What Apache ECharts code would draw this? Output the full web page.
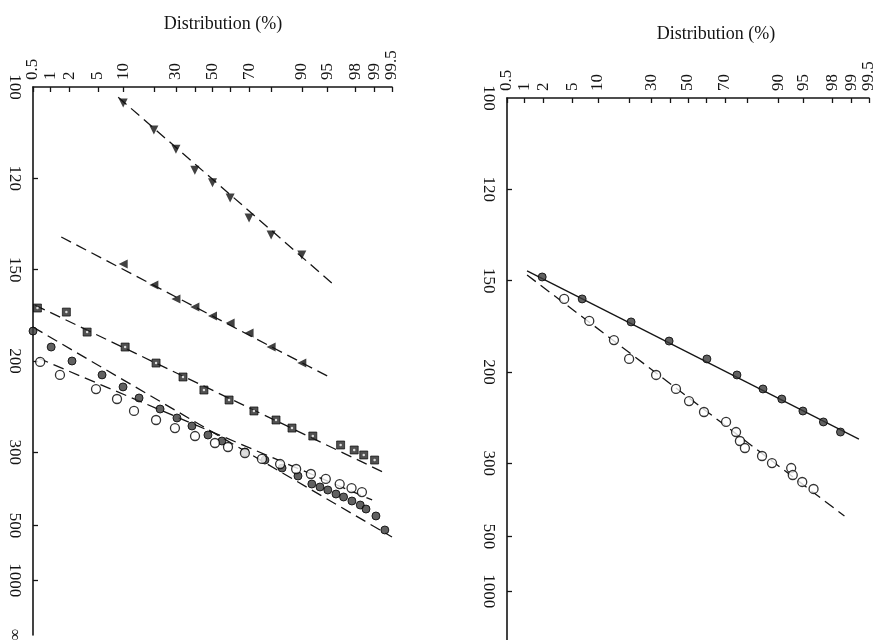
<!DOCTYPE html>
<html><head><meta charset="utf-8">
<script src="https://cdn.jsdelivr.net/npm/echarts@6/dist/echarts.min.js"></script>
<style>html,body{margin:0;padding:0;background:#fff}#c{width:888px;height:640px}</style>
</head><body><div id="c"></div>
<script>
// ---- axis ticks / labels ----
const probTicks = [0.5,1,2,5,10,20,30,40,50,60,70,80,90,95,98,99,99.5];
const probLabels = [0.5,1,2,5,10,30,50,70,90,95,98,99,99.5];
const strengthTicks = [120,150,200,300,500,1000];
const strengthLabelValues = [100,120,150,200,300,500,1000,Infinity];
const strengthLabelText = ['100','120','150','200','300','500','1000','∞'];

// ---- left panel data (percent, strength) ----
const lDownPct = [10,20,30,40,50,60,70,80,90];
const lDownStr = [103.0,108.5,112.8,117.9,121.2,125.4,131.4,137.0,144.2];
const lDownFitPct = [8.8,95.8];
const lDownFitStr = [101.9,156.1];

const lLeftPct = [10,20,30,40,50,60,70,80,90];
const lLeftStr = [147.7,156.6,163.1,167.1,171.8,175.7,181.5,190.3,201.5];
const lLeftFitPct = [1.5,95.3];
const lLeftFitStr = [137.7,212.4];

const lSquarePct = [0.6,1.8,3.6,10.5,20.9,33.6,45.1,59.4,72.4,81.9,87.3,92.5,96.7,97.9,98.5,99.0];
const lSquareStr = [167.6,169.7,180.9,190.3,201.5,212.4,223.7,233.2,244.6,254.9,264.8,275.4,288.4,296.2,304.4,313.2];
const lSquareFitPct = [0.54,99.28];
const lSquareFitStr = [166.1,336.3];

const lFilledPct = [0.5,1.03,2.19,5.65,9.96,14.6,22.6,30.5,38.4,47.4,55.4,67.9,77.4,84.1,89.0,92.3,93.85,95.1,96.18,97.0,97.73,98.3,98.62,99.05,99.33];
const lFilledStr = [180.3,190.3,200.0,210.7,220.9,231.2,242.5,252.5,262.2,274.0,282.5,299.5,313.2,328.2,344.7,363.0,370.2,377.9,388.7,397.1,409.0,421.6,435.0,460.4,521.9];
const lFilledFitPct = [0.5,99.5];
const lFilledFitStr = [178,559];

const lOpenPct = [0.67,1.43,4.73,8.53,13.0,20.9,29.5,40.1,51.4,58.8,67.9,76.1,83.4,88.5,92.1,94.8,96.6,97.7,98.4];
const lOpenStr = [200.7,210.7,222.8,232.2,244.6,254.9,264.8,275.4,285.4,291.5,301.1,311.3,320.5,330.1,340.4,351.2,363.0,372.9,383.3];
const lOpenFitPct = [0.61,98.9];
const lOpenFitStr = [197.8,405.8];

// ---- right panel data ----
const rFilledPct = [1.9,6.6,20.9,39.4,60.6,75.7,85.7,90.9,94.9,97.3,98.5];
const rFilledStr = [148.5,157.9,169.1,179.7,190.9,202.2,213.2,221.9,233.2,244.6,256.1];
const rFilledFitPct = [1.1,99.25];
const rFilledFitStr = [146.1,264.8];

const rOpenPct = [3.9,8.0,14.6,20.1,32.5,43.2,50.6,59.0,70.6,75.3,77.0,79.1,85.4,88.4,92.9,93.2,94.8,96.3];
const rOpenStr = [157.9,168.6,179.1,190.9,202.2,213.2,223.7,234.2,244.6,256.1,267.3,276.8,288.4,299.5,307.9,320.5,334.1,349.0];
const rOpenFitPct = [1.1,98.7];
const rOpenFitStr = [147.7,421.6];

// ---- scale transforms (normal probability / reciprocal strength) ----
function probit(p){
 const a=[-3.969683028665376e+01,2.209460984245205e+02,-2.759285104469687e+02,1.383577518672690e+02,-3.066479806614716e+01,2.506628277459239e+00];
 const b=[-5.447609879822406e+01,1.615858368580409e+02,-1.556989798598866e+02,6.680131188771972e+01,-1.328068155288572e+01];
 const c=[-7.784894002430293e-03,-3.223964580411365e-01,-2.400758277161838e+00,-2.549732528237850e+00,4.374664141464968e+00,2.938163982698783e+00];
 const d=[7.784695709041462e-03,3.224671290700398e-01,2.445134137142996e+00,3.754408661907416e+00];
 const pl=0.02425, ph=1-pl; let q,r;
 if(p<pl){q=Math.sqrt(-2*Math.log(p));return (((((c[0]*q+c[1])*q+c[2])*q+c[3])*q+c[4])*q+c[5])/((((d[0]*q+d[1])*q+d[2])*q+d[3])*q+1);}
 if(p<=ph){q=p-0.5;r=q*q;return (((((a[0]*r+a[1])*r+a[2])*r+a[3])*r+a[4])*r+a[5])*q/(((((b[0]*r+b[1])*r+b[2])*r+b[3])*r+b[4])*r+1);}
 q=Math.sqrt(-2*Math.log(1-p));return -(((((c[0]*q+c[1])*q+c[2])*q+c[3])*q+c[4])*q+c[5])/((((d[0]*q+d[1])*q+d[2])*q+d[3])*q+1);
}
const zx = p => probit(p/100);
const uy = s => (s===Infinity ? 0 : 1000/s);
const pts = (pct, str) => pct.map((p,i)=>[zx(p), uy(str[i])]);

const FONT = 'Liberation Serif';
const INK = '#151515';

function xAxisFor(g){
  return {
    gridIndex:g, type:'value', position:'top',
    min: zx(0.5), max: zx(99.5),
    axisLine:{show:true, onZero:false, lineStyle:{color:INK, width:1.6}},
    axisTick:{show:true, inside:true, length:5, lineStyle:{color:INK, width:1.3}, customValues: probTicks.map(zx)},
    axisLabel:{show:true, rotate:-90, margin:7, color:INK, fontFamily:FONT, fontSize:17,
      customValues: probLabels.map(zx),
      formatter: v => { let best=0,bd=1e9; probLabels.forEach((p,i)=>{const dd=Math.abs(zx(p)-v); if(dd<bd){bd=dd;best=i;}}); return String(probLabels[best]); }},
    splitLine:{show:false}
  };
}
function yAxisFor(g){
  return {
    gridIndex:g, type:'value', position:'left', min:0, max:10,
    axisLine:{show:true, onZero:false, lineStyle:{color:INK, width:1.6}},
    axisTick:{show:true, inside:true, length:5, lineStyle:{color:INK, width:1.3}, customValues: strengthTicks.map(uy)},
    axisLabel:{show:true, rotate:-90, margin:10, color:INK, fontFamily:FONT, fontSize:17,
      customValues: strengthLabelValues.map(uy),
      formatter: v => { let best=0,bd=1e9; strengthLabelValues.forEach((s,i)=>{const dd=Math.abs(uy(s)-v); if(dd<bd){bd=dd;best=i;}}); return strengthLabelText[best]; }},
    splitLine:{show:false}
  };
}

function fit(g, pct, str, dashed){
  return {type:'line', xAxisIndex:g, yAxisIndex:g, data: pts(pct,str), symbol:'none', silent:true, z:1,
    lineStyle:{color:INK, width:1.3, type: dashed ? [11,6] : 'solid'}};
}
function scat(g, pct, str, kind){
  const s = {type:'scatter', xAxisIndex:g, yAxisIndex:g, data: pts(pct,str), z:3, silent:true};
  if(kind==='filled'){ s.symbol='circle'; s.symbolSize=8; s.itemStyle={color:'#3a3a3a', borderColor:'#000', borderWidth:1}; }
  if(kind==='open'){ s.symbol='circle'; s.symbolSize=9; s.itemStyle={color:'#fff', borderColor:'#000', borderWidth:1.3}; }
  if(kind==='square'){ s.symbol='rect'; s.symbolSize=8; s.itemStyle={color:'#262626', borderColor:'#000', borderWidth:0.8}; }
  if(kind==='squareDot'){ s.symbol='circle'; s.symbolSize=2.5; s.z=4; s.itemStyle={color:'#fff'}; }
  if(kind==='down'){ s.symbol='triangle'; s.symbolSize=9; s.symbolRotate=180; s.itemStyle={color:'#111'}; }
  if(kind==='left'){ s.symbol='triangle'; s.symbolSize=9; s.symbolRotate=90; s.itemStyle={color:'#111'}; }
  return s;
}

const chart = echarts.init(document.getElementById('c'), null, {renderer:'canvas'});
chart.setOption({
  backgroundColor:'#fff',
  animation:false,
  title:[
    {text:'Distribution (%)', left:218, top:10, textAlign:'center', textStyle:{fontFamily:FONT, fontSize:18, fontWeight:'normal', color:INK}},
    {text:'Distribution (%)', left:711, top:20, textAlign:'center', textStyle:{fontFamily:FONT, fontSize:18, fontWeight:'normal', color:INK}}
  ],
  grid:[
    {left:33, top:87, width:359, height:548, outerBoundsMode:'none', containLabel:false},
    {left:507, top:98, width:362, height:548, outerBoundsMode:'none', containLabel:false}
  ],
  xAxis:[xAxisFor(0), xAxisFor(1)],
  yAxis:[yAxisFor(0), yAxisFor(1)],
  series:[
    fit(0, lDownFitPct, lDownFitStr, true), scat(0, lDownPct, lDownStr, 'down'),
    fit(0, lLeftFitPct, lLeftFitStr, true), scat(0, lLeftPct, lLeftStr, 'left'),
    fit(0, lSquareFitPct, lSquareFitStr, true), scat(0, lSquarePct, lSquareStr, 'square'), scat(0, lSquarePct, lSquareStr, 'squareDot'),
    fit(0, lFilledFitPct, lFilledFitStr, true), scat(0, lFilledPct, lFilledStr, 'filled'),
    fit(0, lOpenFitPct, lOpenFitStr, true), scat(0, lOpenPct, lOpenStr, 'open'),
    fit(1, rFilledFitPct, rFilledFitStr, false), scat(1, rFilledPct, rFilledStr, 'filled'),
    fit(1, rOpenFitPct, rOpenFitStr, true), scat(1, rOpenPct, rOpenStr, 'open')
  ]
});
</script></body></html>
